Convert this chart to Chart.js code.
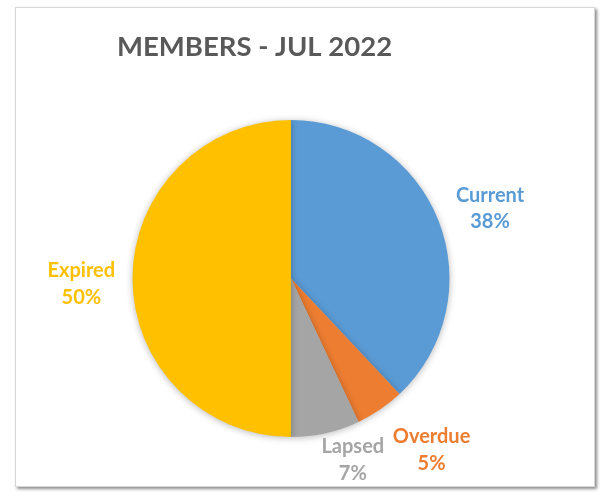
<!DOCTYPE html>
<html>
<head>
<meta charset="utf-8">
<script src="https://cdn.jsdelivr.net/npm/chart.js@4/dist/chart.umd.min.js"></script>
<style>
  html, body { margin: 0; padding: 0; background: #ffffff; }
  #wrap { position: relative; width: 605px; height: 497px; overflow: hidden; }
  #frame { position: absolute; left: 15px; top: 7px; width: 578px; height: 478px;
           border: 1px solid #d6d6d6; box-shadow: 2px 2px 3px rgba(0,0,0,0.45); background: #fff; }
  #c { position: absolute; left: 0; top: 0; }
</style>
</head>
<body>
<div id="wrap">
  <div id="frame"></div>
  <canvas id="c" width="605" height="497"></canvas>
</div>
<script>
const titleText = 'MEMBERS - JUL 2022';
const categories = ['Current', 'Overdue', 'Lapsed', 'Expired'];
const percentValues = [38, 5, 7, 50];
const sliceColors = ['#5B9BD5', '#ED7D31', '#A5A5A5', '#FFC000'];

// label placement (style config, not data): radial factor and angle shift in degrees
const labelPlacement = [
  { dist: 1.333, shift: 2.0 },
  { dist: 1.394, shift: -5.3 },
  { dist: 1.204, shift: -6.3 },
  { dist: 1.323, shift: -1.2 }
];

const pieShadow = {
  id: 'pieShadow',
  beforeDatasetsDraw(chart) {
    const ctx = chart.ctx;
    ctx.save();
    ctx.shadowColor = 'rgba(0,0,0,0.28)';
    ctx.shadowBlur = 7;
    ctx.shadowOffsetX = 0;
    ctx.shadowOffsetY = 1;
  },
  afterDatasetsDraw(chart) {
    chart.ctx.restore();
  }
};

const outsideLabels = {
  id: 'outsideLabels',
  afterDraw(chart, args, opts) {
    const ctx = chart.ctx;
    const meta = chart.getDatasetMeta(0);
    const data = chart.data.datasets[0].data;
    const total = data.reduce((a, b) => a + b, 0);
    ctx.save();
    ctx.font = opts.font;
    ctx.textAlign = 'center';
    ctx.textBaseline = 'alphabetic';
    meta.data.forEach((arc, i) => {
      const p = opts.placement[i];
      const mid = (arc.startAngle + arc.endAngle) / 2 + p.shift * Math.PI / 180;
      const r = arc.outerRadius * p.dist;
      const cx = arc.x + Math.cos(mid) * r;
      const cy = arc.y + Math.sin(mid) * r;
      const pct = Math.round(data[i] / total * 100) + '%';
      ctx.fillStyle = chart.data.datasets[0].backgroundColor[i];
      const half = opts.lineGap / 2;
      ctx.fillText(chart.data.labels[i], cx, cy - half + opts.capHalf);
      ctx.fillText(pct, cx, cy + half + opts.capHalf);
    });
    ctx.restore();
  }
};

new Chart(document.getElementById('c'), {
  type: 'pie',
  data: {
    labels: categories,
    datasets: [{
      data: percentValues,
      backgroundColor: sliceColors,
      borderWidth: 0,
      hoverOffset: 0
    }]
  },
  options: {
    responsive: false,
    animation: false,
    events: [],
    layout: { padding: { left: 117, right: 140, top: 0, bottom: 60 } },
    plugins: {
      legend: { display: false },
      tooltip: { enabled: false },
      title: {
        display: true,
        text: titleText,
        align: 'start',
        color: '#595959',
        font: { family: 'Lato', size: 27.5, weight: 'bold' },
        padding: { top: 31, bottom: 56 }
      },
      outsideLabels: {
        font: 'bold 20px Lato',
        lineGap: 26.5,
        capHalf: 7.5,
        placement: labelPlacement
      }
    }
  },
  plugins: [pieShadow, outsideLabels]
});
</script>
</body>
</html>
